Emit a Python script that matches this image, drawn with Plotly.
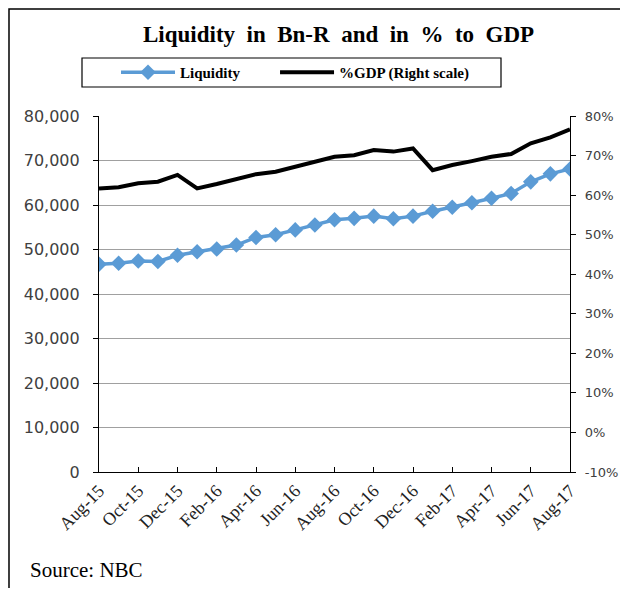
import plotly.graph_objects as go

months = ["Aug-15", "Sep-15", "Oct-15", "Nov-15", "Dec-15", "Jan-16", "Feb-16", "Mar-16",
          "Apr-16", "May-16", "Jun-16", "Jul-16", "Aug-16", "Sep-16", "Oct-16", "Nov-16",
          "Dec-16", "Jan-17", "Feb-17", "Mar-17", "Apr-17", "May-17", "Jun-17", "Jul-17", "Aug-17"]
liquidity = [46700, 46900, 47400, 47300, 48700, 49500, 50100, 51000, 52700, 53300, 54400, 55500,
             56700, 57000, 57500, 56900, 57500, 58600, 59500, 60500, 61500, 62600, 65200, 67000, 68100]
gdp_pct = [61.7, 62.0, 63.0, 63.4, 65.1, 61.7, 62.8, 64.1, 65.3, 65.9, 67.2, 68.3, 69.7, 70.1,
           71.4, 71.0, 71.8, 66.3, 67.6, 68.6, 69.7, 70.4, 73.1, 74.6, 76.6]
left_ticks = list(range(0, 80001, 10000))
right_ticks = list(range(-10, 81, 10))
right_labels = ["%d%%" % v for v in right_ticks]

# page has an 8px body margin; design in page pixels
OFF = 8
W, H = 612, 580
PX0, PX1, PY0, PY1 = 99, 570, 116, 472  # plot area in page pixels
L = PX0 - OFF
T = PY0 - OFF
pw, ph = PX1 - PX0, PY1 - PY0
R = W - L - pw
B = H - T - ph


def fx(px):
    return (px - PX0) / pw


def fy(py):
    return (PY1 - py) / ph


fig = go.Figure()
fig.add_trace(go.Scatter(
    x=months, y=liquidity, name="Liquidity" + "\u00a0" * 8, mode="lines+markers",
    line=dict(color="#5B9BD5", width=3.5),
    marker=dict(symbol="diamond", size=12, color="#5B9BD5"),
    yaxis="y"))
fig.add_trace(go.Scatter(
    x=months, y=gdp_pct, name="%GDP (Right scale)", mode="lines",
    line=dict(color="black", width=4),
    yaxis="y2"))

serif = "Liberation Serif"
sans = "DejaVu Sans"

fig.update_layout(
    width=W, height=H,
    margin=dict(l=L, r=R, t=T, b=B, autoexpand=False),
    paper_bgcolor="white", plot_bgcolor="white",
    showlegend=True,
    legend=dict(orientation="h", x=fx(116), y=fy(72.5),
                xanchor="left", yanchor="middle",
                borderwidth=0, bgcolor="rgba(0,0,0,0)",
                font=dict(family=serif, size=15, color="black", weight="bold"),
                itemwidth=54),
    xaxis=dict(type="category", range=[0, len(months) - 1],
               tickvals=months[::2], ticktext=months[::2],
               tickangle=-45, ticks="inside", ticklen=5, tickcolor="black",
               showline=True, linecolor="black", linewidth=1.2,
               showgrid=False, zeroline=False,
               tickfont=dict(family=serif, size=18, color="#222222")),
    yaxis=dict(range=[0, 80000], tickvals=left_ticks, tickformat=",d",
               ticks="outside", ticklen=5, tickcolor="black",
               showline=True, linecolor="black", linewidth=1.2,
               showgrid=True, gridcolor="#A0A0A0", gridwidth=1.3,
               zeroline=False, ticklabelstandoff=10,
               tickfont=dict(family=sans, size=16, color="#404040")),
    yaxis2=dict(range=[-10, 80], tickvals=right_ticks, ticktext=right_labels,
                overlaying="y", side="right", anchor="x",
                ticks="outside", ticklen=5, tickcolor="black",
                showline=True, linecolor="black", linewidth=1.2,
                showgrid=False, zeroline=False, ticklabelstandoff=6,
                tickfont=dict(family=sans, size=13, color="#404040")),
    yaxis3=dict(range=[-10, 80], tickvals=right_ticks,
                overlaying="y", side="right", anchor="x",
                ticks="inside", ticklen=5, tickcolor="black",
                showticklabels=False, showline=False, showgrid=False, zeroline=False),
    annotations=[
        dict(text="Liquidity  in  Bn-R  and  in  %  to  GDP", xref="paper", yref="paper",
             x=fx(338), y=fy(34), xanchor="center", yanchor="middle",
             showarrow=False, font=dict(family=serif, size=23, color="black", weight="bold")),
        dict(text="Source: NBC", xref="paper", yref="paper",
             x=fx(28), y=fy(570), xanchor="left", yanchor="middle",
             showarrow=False, font=dict(family=serif, size=21, color="black")),
    ],
    shapes=[
        dict(type="path", xref="paper", yref="paper",
             path="M %f,%f L %f,%f L %f,%f" % (fx(9), fy(640), fx(9), fy(9), fx(660), fy(9)),
             line=dict(color="black", width=1.5)),
        dict(type="rect", xref="paper", yref="paper",
             x0=fx(82), x1=fx(501), y0=fy(58), y1=fy(87),
             line=dict(color="black", width=1.2), fillcolor="rgba(0,0,0,0)"),
    ],
)

fig.write_html("out.html")
